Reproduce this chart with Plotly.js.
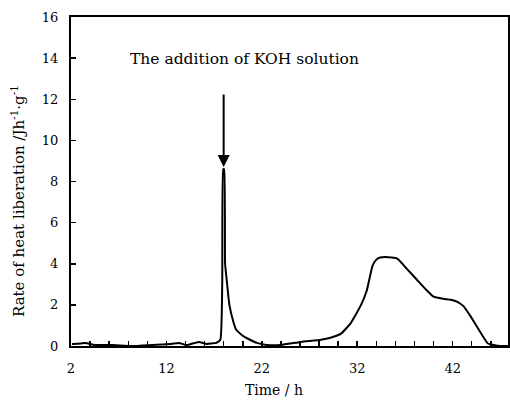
<!DOCTYPE html>
<html>
<head>
<meta charset="utf-8">
<script src="https://cdn.plot.ly/plotly-3.0.1.min.js"></script>
<style>html,body{margin:0;padding:0;background:#fff;}#chart{width:510px;height:401px;}</style>
</head>
<body>
<div id="chart"></div>
<script>
const timeH = [2.1, 3.0, 3.5, 4.5, 6.3, 8.4, 10.5, 12.5, 13.3, 14.1, 15.4, 16.2, 17.2, 17.65, 17.85, 17.95, 18.05, 18.15, 18.3, 18.6, 19.0, 19.3, 20.0, 20.6, 21.5, 22.5, 24.0, 26.1, 28.2, 29.2, 30.3, 31.3, 32.4, 33.0, 33.6, 34.0, 34.4, 35.0, 36.2, 37.2, 38.3, 39.2, 40.0, 41.0, 41.8, 42.5, 43.1, 43.8, 44.6, 45.2, 45.7, 46.3, 47.0, 47.8];
const heatRate = [0.1, 0.12, 0.15, 0.05, 0.05, 0.0, 0.05, 0.1, 0.15, 0.05, 0.2, 0.1, 0.15, 0.3, 3.0, 8.6, 8.6, 4.0, 3.3, 2.0, 1.2, 0.8, 0.5, 0.34, 0.15, 0.05, 0.05, 0.2, 0.3, 0.4, 0.6, 1.1, 2.0, 2.7, 3.9, 4.2, 4.3, 4.33, 4.25, 3.75, 3.2, 2.75, 2.4, 2.3, 2.25, 2.15, 1.95, 1.5, 0.9, 0.45, 0.12, 0.05, 0.0, 0.0];

const xTickVals = [2, 12, 22, 32, 42];
const xTickText = ['2', '12', '22', '32', '42'];
const yTickVals = [0, 2, 4, 6, 8, 10, 12, 14, 16];

const xTitle = 'Time / h';
const yTitle = 'Rate of heat liberation /Jh<sup>-1</sup>·g<sup>-1</sup>';
const annText = 'The addition of KOH solution';
const annPos = [20.2, 13.95];
const arrowFrom = [18.0, 12.3];
const arrowTo = [18.0, 8.7];

const fam = 'DejaVu Serif, Liberation Serif, serif';
const tf = (s) => ({family: fam, size: s, color: '#000'});

const L = 71, R = 2, T = 17, B = 55, W = 510, H = 401;
const px = (x) => (x - L) / (W - L - R);
const py = (y) => 1 - (y - T) / (H - T - B);

Plotly.newPlot('chart', [{
  x: timeH, y: heatRate, type: 'scatter', mode: 'lines',
  line: {color: '#000', width: 2, shape: 'spline', smoothing: 0.4}, hoverinfo: 'skip'
}], {
  width: W, height: H,
  margin: {l: L, r: R, t: T, b: B},
  paper_bgcolor: '#fff', plot_bgcolor: '#fff',
  showlegend: false,
  font: tf(13),
  xaxis: {
    range: [2, 47.8], tickvals: xTickVals, ticktext: xTickText,
    ticks: 'inside', ticklen: 5, tickwidth: 1.5, tickcolor: '#000',
    minor: {tick0: 2, dtick: 2, ticks: 'inside', ticklen: 5, tickwidth: 1.5, tickcolor: '#000', showgrid: false},
    showline: true, linecolor: '#000', linewidth: 2, mirror: true,
    showgrid: false, zeroline: false, ticklabelstandoff: 9,
    tickfont: tf(13)
  },
  yaxis: {
    range: [0, 16], tickvals: yTickVals,
    ticks: 'inside', ticklen: 5, tickwidth: 1.5, tickcolor: '#000',
    showline: true, linecolor: '#000', linewidth: 2, mirror: true,
    showgrid: false, zeroline: false,
    ticklabelstandoff: 8,
    tickfont: tf(13)
  },
  annotations: [
    {x: px(274), y: py(390), xref: 'paper', yref: 'paper', xanchor: 'center', yanchor: 'middle',
     text: xTitle, showarrow: false, font: tf(14)},
    {x: px(18), y: py(201), xref: 'paper', yref: 'paper', xanchor: 'center', yanchor: 'middle',
     text: yTitle, showarrow: false, textangle: -90, font: tf(15)},
    {x: annPos[0], y: annPos[1], xref: 'x', yref: 'y', xanchor: 'center', yanchor: 'middle',
     text: annText, showarrow: false, font: tf(15.5)},
    {x: arrowTo[0], y: arrowTo[1], ax: arrowFrom[0], ay: arrowFrom[1], xref: 'x', yref: 'y', axref: 'x', ayref: 'y',
     text: '', showarrow: true, arrowhead: 2, arrowsize: 1.2, arrowwidth: 2, arrowcolor: '#000'}
  ]
}, {displayModeBar: false, staticPlot: true});
</script>
</body>
</html>
